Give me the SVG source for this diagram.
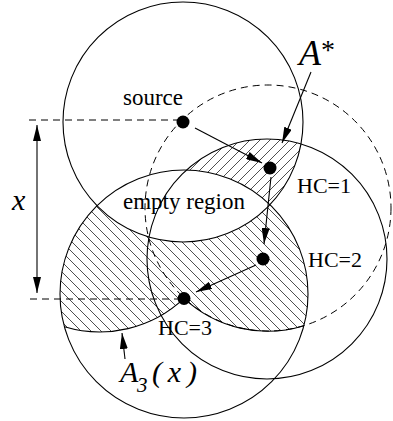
<svg xmlns="http://www.w3.org/2000/svg" width="393" height="421" viewBox="0 0 393 421">
<style>
.c{fill:none;stroke:#000;stroke-width:1.1}
.d{fill:none;stroke:#000;stroke-width:1;stroke-dasharray:7 5}
.a{fill:none;stroke:#000;stroke-width:1.1;marker-end:url(#ah)}
.n{fill:#000}
.t{font-family:"Liberation Serif","Times New Roman",serif;fill:#000}
.i{font-style:italic}
.h{stroke:#222;stroke-width:0.8;fill:none}
</style>
<defs>
<marker id="ah" markerWidth="16" markerHeight="8" refX="16" refY="4" orient="auto-start-reverse" markerUnits="userSpaceOnUse">
<path d="M0,0 L16,4 L0,8 Z" fill="#000"/>
</marker>
<pattern id="hatchF" width="10" height="10" patternUnits="userSpaceOnUse">
<path class="h" d="M-1,1 L1,-1 M0,10 L10,0 M9,11 L11,9"/>
</pattern>
<pattern id="hatchB" width="10" height="10" patternUnits="userSpaceOnUse">
<path class="h" d="M-1,9 L1,11 M0,0 L10,10 M9,-1 L11,1"/>
</pattern>
<clipPath id="cS"><circle cx="183" cy="122" r="120"/></clipPath>
<clipPath id="cC2"><circle cx="267" cy="259" r="120"/></clipPath>
<clipPath id="cC3"><circle cx="184" cy="294" r="124"/></clipPath>
<clipPath id="nC3"><path clip-rule="evenodd" d="M0,0H393V421H0Z M60,294 a124,124 0 1,0 248,0 a124,124 0 1,0 -248,0Z"/></clipPath>
<clipPath id="nS"><path clip-rule="evenodd" d="M0,0H393V421H0Z M63,122 a120,120 0 1,0 240,0 a120,120 0 1,0 -240,0Z"/></clipPath>
<clipPath id="cMD"><circle cx="100" cy="209" r="123"/><circle cx="268" cy="208" r="123"/></clipPath>
</defs>
<rect width="393" height="421" fill="#fff"/>

<g id="region-Astar" clip-path="url(#cS)">
<g clip-path="url(#cC2)">
<rect width="393" height="421" fill="url(#hatchF)" clip-path="url(#nC3)"/>
</g>
</g>
<g id="region-A3x" clip-path="url(#cC3)">
<g clip-path="url(#nS)">
<rect width="393" height="421" fill="url(#hatchB)" clip-path="url(#cMD)"/>
</g>
</g>

<g id="ranges">
<circle class="c" cx="183" cy="122" r="120"/>
<circle class="c" cx="267" cy="259" r="120"/>
<circle class="c" cx="184" cy="294" r="124"/>
<circle class="d" cx="268" cy="208" r="123"/>
<path class="c" d="M64.4,326.8 A123,123 0 0 0 184,298.4"/>
<path class="c" d="M184,298.4 A123,123 0 0 0 303.9,325.7"/>
</g>

<g id="connectors">
<line class="d" x1="29" y1="120" x2="183" y2="120"/>
<line class="d" x1="30" y1="299" x2="184" y2="299"/>
<line x1="37" y1="125" x2="37" y2="293" stroke="#000" stroke-width="1.1" marker-start="url(#ah)" marker-end="url(#ah)"/>
<line class="a" x1="195" y1="128" x2="262" y2="163"/>
<line class="a" x1="311" y1="72" x2="282" y2="143"/>
<line class="a" x1="271" y1="177" x2="264" y2="244"/>
<line class="a" x1="256" y1="265" x2="196" y2="292"/>
<line class="a" x1="125" y1="359" x2="122" y2="333"/>
</g>

<g id="source"><circle class="n" cx="183" cy="122" r="6.5"/><text class="t" x="123" y="105" font-size="23">source</text></g>
<g id="hc1"><circle class="n" cx="270" cy="168" r="6.5"/><text class="t" x="297" y="193" font-size="22">HC=1</text></g>
<g id="hc2"><circle class="n" cx="263" cy="259" r="6.5"/><text class="t" x="308" y="267" font-size="22">HC=2</text></g>
<g id="hc3"><circle class="n" cx="184" cy="298.5" r="6.5"/><text class="t" x="158" y="335" font-size="22">HC=3</text></g>
<g id="empty-region"><text class="t" x="123" y="209" font-size="23">empty region</text></g>
<g id="label-Astar"><text class="t i" x="299" y="65" font-size="36">A</text><text class="t" x="321" y="59" font-size="28">*</text></g>
<g id="label-A3x"><text class="t i" x="120" y="382" font-size="30">A</text><text class="t i" x="137" y="392" font-size="21">3</text><text class="t i" x="152" y="382" font-size="30" textLength="45" lengthAdjust="spacing">(x)</text></g>
<g id="label-x"><text class="t i" x="12" y="210" font-size="30">x</text></g>
</svg>
